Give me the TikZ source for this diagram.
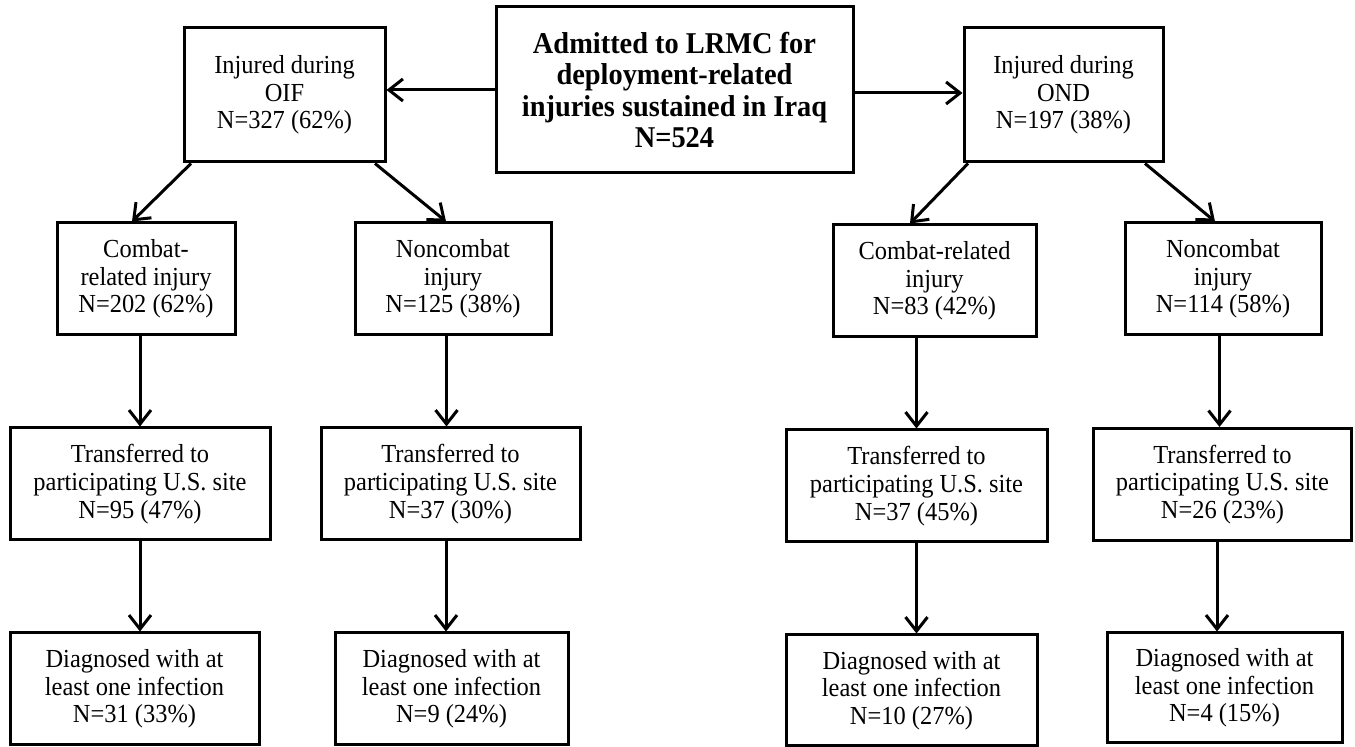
\documentclass[tikz,border=0pt]{standalone}
\usepackage{fontspec}
\setmainfont[FakeStretch=0.94]{Liberation Serif}
\usetikzlibrary{arrows.meta,calc}
\tikzset{
  box/.style={draw=black, line width=1.5pt, align=center, inner sep=0pt,
    font=\fontsize{13}{13.85}\selectfont},
  arr/.style={line width=1.5pt, -{Straight Barb[length=7pt,width=11pt,line width=1.5pt]}}
}
\begin{document}
\begin{tikzpicture}[x=0.5pt,y=-0.5pt]
\useasboundingbox (0,0) rectangle (1355,747);
\node[box, minimum width=178.5pt, minimum height=83pt,
  font=\fontsize{15.1}{15.8}\selectfont\bfseries] (top) at (674.5,90)
  {Admitted to LRMC for\\deployment-related\\injuries sustained in Iraq\\N=524};
\node[box, minimum width=100.5pt, minimum height=67pt] (oif) at (284.5,95)
  {Injured during\\OIF\\N=327 (62\%)};
\node[box, minimum width=99.5pt, minimum height=67pt] (ond) at (1063.5,95)
  {Injured during\\OND\\N=197 (38\%)};
\node[box, minimum width=89pt, minimum height=56pt] (coif) at (146,279)
  {Combat-\\related injury\\N=202 (62\%)};
\node[box, minimum width=98pt, minimum height=56pt] (noif) at (453,279)
  {Noncombat\\injury\\N=125 (38\%)};
\node[box, minimum width=101.5pt, minimum height=56pt] (cond) at (934.5,281)
  {Combat-related\\injury\\N=83 (42\%)};
\node[box, minimum width=98pt, minimum height=56pt] (nond) at (1223,279)
  {Noncombat\\injury\\N=114 (58\%)};
\node[box, minimum width=130pt, minimum height=56pt] (ta) at (140,484)
  {Transferred to\\participating U.S. site\\N=95 (47\%)};
\node[box, minimum width=129.5pt, minimum height=56pt] (tb) at (450.5,484)
  {Transferred to\\participating U.S. site\\N=37 (30\%)};
\node[box, minimum width=130.5pt, minimum height=56pt] (tc) at (916.5,486)
  {Transferred to\\participating U.S. site\\N=37 (45\%)};
\node[box, minimum width=129pt, minimum height=56pt] (td) at (1222.5,484.5)
  {Transferred to\\participating U.S. site\\N=26 (23\%)};
\node[box, minimum width=124.5pt, minimum height=56pt] (da) at (134.5,689)
  {Diagnosed with at\\least one infection\\N=31 (33\%)};
\node[box, minimum width=116.5pt, minimum height=56pt] (db) at (451.5,689)
  {Diagnosed with at\\least one infection\\N=9 (24\%)};
\node[box, minimum width=125.5pt, minimum height=55.5pt] (dc) at (911.5,690.5)
  {Diagnosed with at\\least one infection\\N=10 (27\%)};
\node[box, minimum width=117.5pt, minimum height=55pt] (dd) at (1224.5,688)
  {Diagnosed with at\\least one infection\\N=4 (15\%)};
% top level
\draw[arr] (top.west) -- (top.west -| oif.east);
\draw[arr] ($(top.east)+(0,3)$) -- ($(top.east -| ond.west)+(0,3)$);
% diagonals
\draw[arr] ($(oif.south)+(-93.5,0)$) -- ($(coif.north)+(-14,0)$);
\draw[arr] ($(oif.south)+(90.5,0)$) -- ($(noif.north)+(-7,0)$);
\draw[arr] ($(ond.south)+(-95.5,0)$) -- ($(cond.north)+(-24.5,0)$);
\draw[arr] ($(ond.south)+(81.5,0)$) -- ($(nond.north)+(-8,0)$);
% verticals
\draw[arr] (ta.north |- coif.south) -- (ta.north);
\draw[arr] ($(tb.north |- noif.south)+(-4,0)$) -- ($(tb.north)+(-4,0)$);
\draw[arr] (tc.north |- cond.south) -- (tc.north);
\draw[arr] ($(td.north |- nond.south)+(-3,0)$) -- ($(td.north)+(-3,0)$);
\draw[arr] (ta.south) -- (ta.south |- da.north);
\draw[arr] ($(tb.south)+(-4.5,0)$) -- ($(tb.south |- db.north)+(-4.5,0)$);
\draw[arr] (tc.south) -- (tc.south |- dc.north);
\draw[arr] ($(td.south)+(-5.5,0)$) -- ($(td.south |- dd.north)+(-5.5,0)$);
\end{tikzpicture}
\end{document}
